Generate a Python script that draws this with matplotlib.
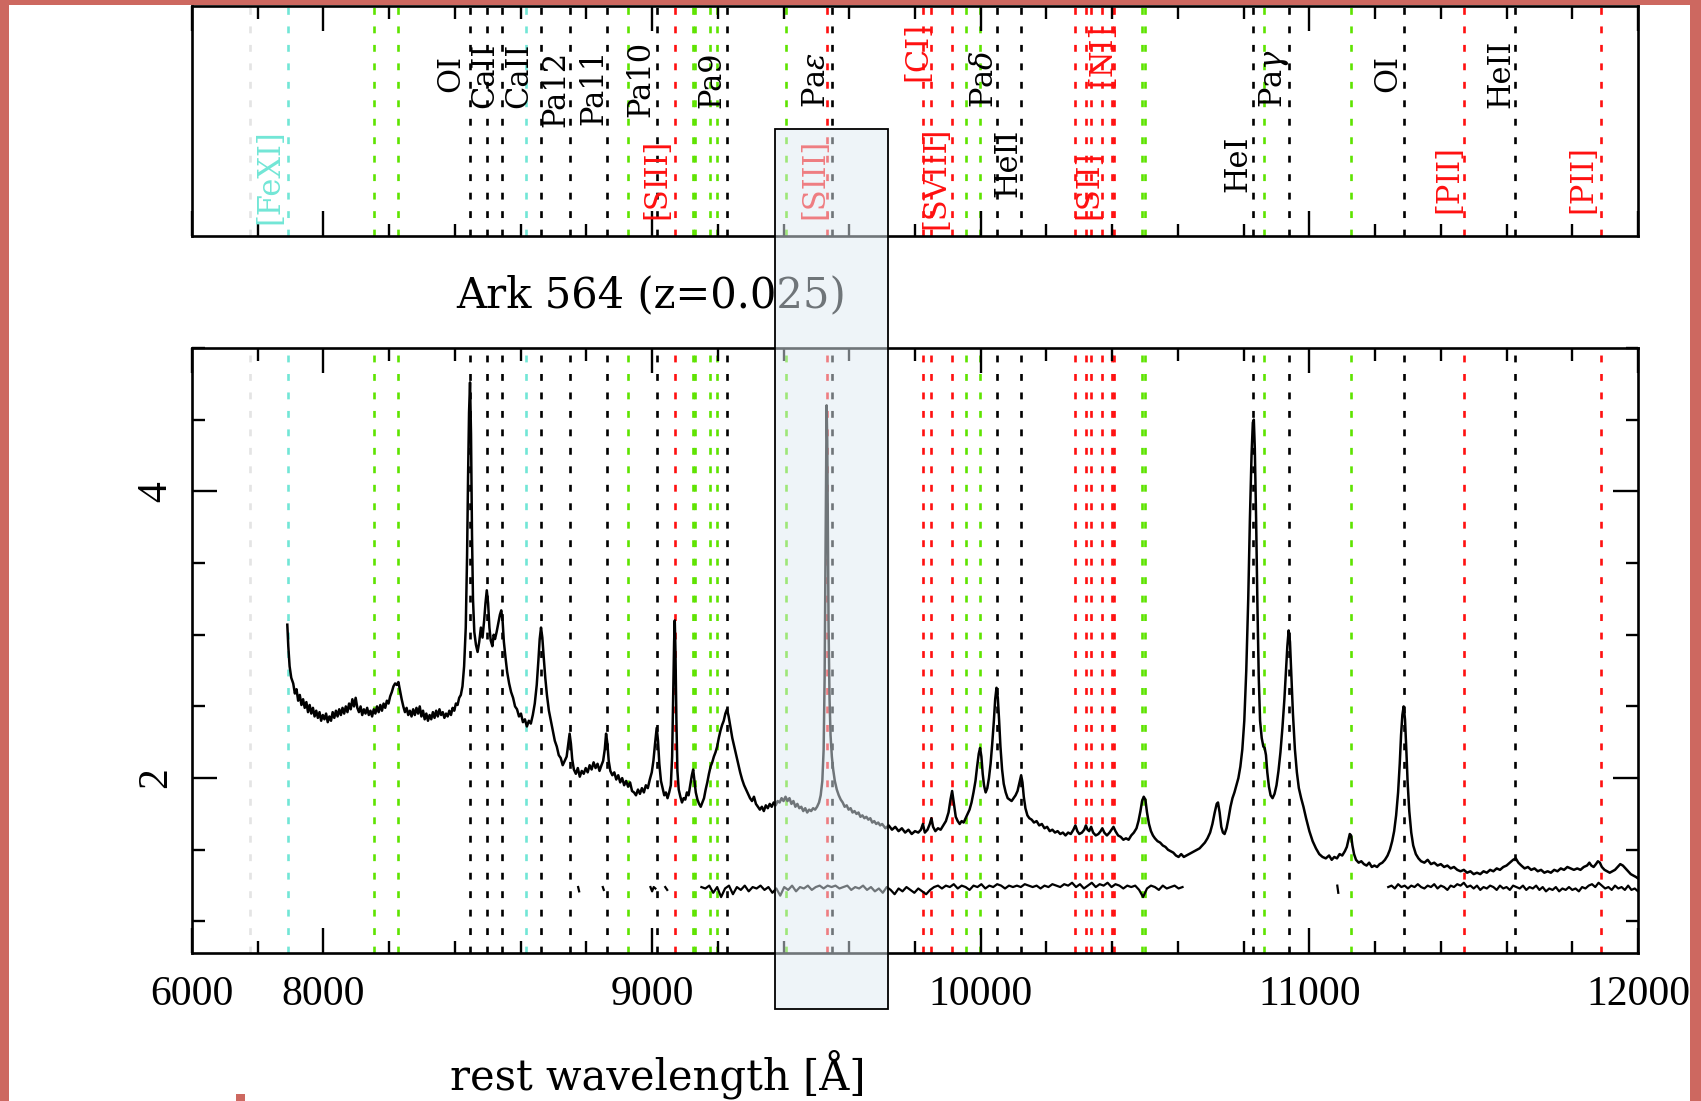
# near-IR spectrum of Ark 564 with line markers

import matplotlib
matplotlib.use("Agg")
import matplotlib.pyplot as plt
import matplotlib.transforms as mtransforms
from matplotlib.patches import Rectangle
from matplotlib.ticker import MultipleLocator, FixedLocator, FixedFormatter
import numpy as np

plt.rcParams['font.family'] = ['Liberation Serif', 'DejaVu Serif']
plt.rcParams['mathtext.fontset'] = 'dejavuserif'

nan = float('nan')

TITLE = "Ark 564 (z=0.025)"
XLABEL = "rest wavelength [Å]"

# spectrum
wave_a = [7890, 7893, 7897, 7902, 7908, 7913, 7918, 7923, 7928, 7933,
          7938, 7943, 7948, 7953, 7958, 7963, 7968, 7973, 7978, 7983,
          7988, 7993, 7998, 8003, 8008, 8013, 8018, 8023, 8028, 8033,
          8038, 8043, 8048, 8053, 8058, 8063, 8068, 8073, 8078, 8083,
          8088, 8093, 8098, 8103, 8108, 8113, 8118, 8123, 8128, 8133,
          8138, 8143, 8148, 8153, 8158, 8163, 8168, 8173, 8178, 8183,
          8188, 8193, 8198, 8203, 8208, 8213, 8218, 8223, 8228, 8233,
          8238, 8243, 8248, 8253, 8258, 8263, 8268, 8273, 8278, 8283,
          8288, 8293, 8298, 8303, 8308, 8313, 8318, 8323, 8328, 8333,
          8338, 8343, 8348, 8353, 8358, 8363, 8368, 8373, 8378, 8383,
          8388, 8393, 8398, 8403, 8408, 8413, 8418, 8423, 8428]
flux_a = [3.07, 2.92, 2.78, 2.70, 2.66, 2.59, 2.62, 2.54, 2.58, 2.51,
          2.55, 2.49, 2.53, 2.46, 2.51, 2.45, 2.49, 2.43, 2.47, 2.42,
          2.46, 2.40, 2.44, 2.41, 2.45, 2.39, 2.43, 2.40, 2.46, 2.42,
          2.47, 2.43, 2.48, 2.44, 2.49, 2.45, 2.50, 2.46, 2.52, 2.48,
          2.55, 2.50, 2.56, 2.49, 2.46, 2.50, 2.44, 2.48, 2.45, 2.49,
          2.44, 2.47, 2.43, 2.48, 2.45, 2.50, 2.46, 2.51, 2.47, 2.52,
          2.49, 2.54, 2.52, 2.57, 2.60, 2.64, 2.66, 2.65, 2.67, 2.61,
          2.55, 2.50, 2.46, 2.49, 2.44, 2.47, 2.43, 2.48, 2.44, 2.49,
          2.45, 2.50, 2.43, 2.47, 2.41, 2.45, 2.40, 2.44, 2.41, 2.46,
          2.42, 2.47, 2.43, 2.48, 2.44, 2.46, 2.42, 2.45, 2.43, 2.47,
          2.44, 2.49, 2.47, 2.52, 2.51, 2.56, 2.58, 2.64, 2.78]

wave_b = [8433, 8437, 8440, 8443, 8446, 8449, 8452, 8455, 8459, 8464,
          8469, 8474, 8479, 8484, 8489, 8493, 8497, 8501, 8505, 8509,
          8514, 8518, 8522, 8527, 8532, 8537, 8541, 8545, 8549, 8554,
          8559, 8565, 8571, 8577, 8583, 8589, 8595, 8601, 8607, 8613,
          8619, 8625, 8631, 8637, 8643, 8649, 8654, 8658, 8662, 8666,
          8670, 8675, 8680, 8686, 8692, 8698]
flux_b = [3.05, 3.55, 4.10, 4.55, 4.76, 4.40, 3.70, 3.25, 3.02, 2.93,
          2.88, 2.95, 3.05, 2.98, 3.10, 3.22, 3.31, 3.22, 3.05, 2.96,
          2.92, 3.00, 2.97, 3.02, 3.08, 3.14, 3.17, 3.10, 2.95, 2.84,
          2.74, 2.66, 2.60, 2.56, 2.50, 2.48, 2.43, 2.45, 2.39, 2.41,
          2.36, 2.40, 2.38, 2.44, 2.52, 2.65, 2.82, 2.97, 3.05, 2.98,
          2.85, 2.70, 2.58, 2.47, 2.40, 2.33]

wave_c = [8704, 8710, 8716, 8722, 8728, 8734, 8740, 8745, 8749, 8753,
          8757, 8762, 8768, 8774, 8780, 8786, 8792, 8798, 8804, 8810,
          8816, 8822, 8828, 8834, 8840, 8846, 8851, 8856, 8860, 8864,
          8868, 8873, 8879, 8885, 8891, 8897, 8903, 8909, 8915, 8921,
          8927, 8933, 8939, 8945, 8951, 8957, 8963, 8969, 8975, 8981,
          8987, 8993, 8999, 9004, 9009, 9014, 9018, 9022, 9027, 9032,
          9037, 9042, 9047, 9052, 9057, 9061, 9064, 9067, 9069, 9071,
          9074, 9077, 9081, 9086, 9091, 9096, 9101, 9106, 9111, 9116,
          9121, 9125, 9129, 9133, 9138, 9143, 9148, 9153, 9158, 9163,
          9168, 9173, 9178, 9183, 9188, 9193, 9198, 9203, 9208, 9213,
          9218, 9223, 9228, 9233, 9238, 9244, 9250, 9256, 9262, 9268,
          9274, 9280, 9286, 9292, 9298, 9304, 9310, 9316, 9322, 9328,
          9334, 9340, 9346, 9352, 9358, 9364, 9370, 9376, 9382, 9388,
          9394, 9400, 9406, 9412, 9418, 9424, 9430, 9436, 9442, 9448,
          9454, 9460, 9466, 9472, 9478, 9484, 9490, 9496]
flux_c = [2.26, 2.22, 2.16, 2.14, 2.09, 2.12, 2.15, 2.24, 2.31, 2.24,
          2.13, 2.06, 2.03, 2.07, 2.01, 2.05, 2.03, 2.07, 2.04, 2.09,
          2.06, 2.11, 2.07, 2.10, 2.05, 2.09, 2.12, 2.20, 2.31, 2.24,
          2.12, 2.05, 2.02, 2.04, 1.99, 2.02, 1.97, 2.00, 1.95, 1.98,
          1.94, 1.97, 1.91, 1.90, 1.88, 1.92, 1.89, 1.93, 1.90, 1.95,
          1.93, 1.99, 2.04, 2.12, 2.24, 2.35, 2.26, 2.10, 1.98, 1.93,
          1.88, 1.90, 1.86, 1.90, 1.95, 2.15, 2.55, 2.95, 3.10, 2.90,
          2.40, 2.05, 1.92, 1.87, 1.83, 1.86, 1.85, 1.90, 1.88, 1.95,
          2.02, 2.06, 1.98, 1.90, 1.85, 1.82, 1.80, 1.83, 1.86, 1.92,
          1.97, 2.03, 2.08, 2.11, 2.15, 2.18, 2.22, 2.28, 2.33, 2.37,
          2.40, 2.45, 2.48, 2.43, 2.36, 2.28, 2.22, 2.16, 2.10, 2.04,
          1.99, 1.95, 1.92, 1.89, 1.86, 1.84, 1.87, 1.82, 1.80, 1.78,
          1.80, 1.77, 1.81, 1.79, 1.82, 1.80, 1.83, 1.81, 1.84, 1.83,
          1.86, 1.84, 1.87, 1.84, 1.86, 1.82, 1.84, 1.80, 1.82, 1.79,
          1.80, 1.77, 1.79, 1.76, 1.78, 1.77, 1.79, 1.78]

wave_d = [9502, 9508, 9513, 9518, 9522, 9525, 9527, 9529, 9531, 9533,
          9535, 9537, 9540, 9543, 9547, 9551, 9556, 9562, 9568, 9574,
          9580, 9586, 9592, 9598, 9604, 9610, 9616, 9622, 9628, 9634,
          9640, 9646, 9652, 9658, 9664, 9670, 9676, 9682, 9688, 9694,
          9700, 9710, 9720, 9730, 9740, 9750, 9760, 9770, 9780, 9790,
          9800]
flux_d = [1.80, 1.83, 1.88, 1.98, 2.20, 2.70, 3.30, 4.00, 4.60, 4.35,
          3.70, 3.05, 2.55, 2.30, 2.15, 2.06, 1.98, 1.92, 1.88, 1.85,
          1.83, 1.80, 1.81, 1.78, 1.79, 1.76, 1.77, 1.75, 1.76, 1.73,
          1.74, 1.72, 1.73, 1.71, 1.72, 1.69, 1.70, 1.68, 1.69, 1.67,
          1.68, 1.65, 1.67, 1.64, 1.66, 1.63, 1.65, 1.62, 1.64, 1.61,
          1.63]

wave_e = [9810, 9818, 9824, 9830, 9838, 9845, 9850, 9855, 9862, 9870,
          9878, 9886, 9894, 9902, 9908, 9913, 9918, 9924, 9930, 9936,
          9942, 9948, 9954, 9960, 9966, 9972, 9978, 9984, 9989, 9994,
          9998, 10002, 10006, 10010, 10015, 10020, 10025, 10030, 10035, 10040,
          10044, 10048, 10052, 10056, 10060, 10065, 10070, 10076, 10082, 10088,
          10094, 10100, 10106, 10112, 10118, 10123, 10127, 10131, 10136, 10142,
          10148, 10155, 10162, 10170, 10178, 10186, 10194, 10202, 10210, 10218,
          10226, 10234, 10242, 10250, 10258, 10266, 10274, 10282, 10288, 10294,
          10300, 10308, 10315, 10320, 10325, 10330, 10336, 10342, 10350, 10358,
          10365, 10370, 10376, 10384, 10392, 10398, 10404, 10410, 10418, 10426,
          10434, 10442, 10450, 10458, 10466, 10474, 10480, 10486, 10491, 10496,
          10501, 10506, 10512, 10518, 10524, 10530, 10538, 10546, 10554, 10562,
          10570, 10578, 10586, 10594, 10602, 10610, 10618, 10626, 10634, 10642,
          10650, 10658, 10666, 10674, 10682, 10690, 10698, 10705, 10712, 10718,
          10722, 10727, 10732, 10737, 10742, 10748, 10754, 10760, 10766]
flux_e = [1.62, 1.64, 1.68, 1.62, 1.64, 1.68, 1.72, 1.66, 1.63, 1.65,
          1.64, 1.67, 1.70, 1.76, 1.85, 1.91, 1.83, 1.73, 1.70, 1.68,
          1.70, 1.69, 1.72, 1.75, 1.78, 1.83, 1.90, 1.98, 2.08, 2.17,
          2.21, 2.15, 2.03, 1.95, 1.90, 1.93, 2.00, 2.10, 2.24, 2.40,
          2.55, 2.63, 2.56, 2.40, 2.22, 2.06, 1.96, 1.90, 1.86, 1.85,
          1.84, 1.86, 1.88, 1.91, 1.97, 2.02, 1.97, 1.87, 1.79, 1.74,
          1.72, 1.71, 1.69, 1.70, 1.67, 1.68, 1.65, 1.66, 1.63, 1.64,
          1.62, 1.63, 1.61, 1.62, 1.60, 1.62, 1.61, 1.64, 1.67, 1.63,
          1.61, 1.62, 1.64, 1.67, 1.64, 1.63, 1.66, 1.62, 1.60, 1.61,
          1.63, 1.65, 1.62, 1.60, 1.62, 1.64, 1.66, 1.63, 1.60, 1.59,
          1.57, 1.58, 1.57, 1.60, 1.62, 1.65, 1.70, 1.77, 1.84, 1.87,
          1.85, 1.76, 1.68, 1.63, 1.60, 1.58, 1.56, 1.55, 1.53, 1.52,
          1.50, 1.49, 1.48, 1.46, 1.45, 1.47, 1.45, 1.46, 1.47, 1.48,
          1.49, 1.50, 1.51, 1.53, 1.55, 1.58, 1.62, 1.68, 1.76, 1.82,
          1.83, 1.76, 1.66, 1.62, 1.61, 1.65, 1.72, 1.80, 1.86]

wave_f = [10772, 10778, 10784, 10790, 10796, 10802, 10808, 10814, 10819, 10824,
          10828, 10831, 10834, 10838, 10842, 10846, 10850, 10855, 10860, 10864,
          10868, 10872, 10877, 10882, 10888, 10894, 10900, 10906, 10912, 10918,
          10924, 10929, 10933, 10937, 10941, 10945, 10950, 10956, 10962, 10968,
          10975, 10982, 10990, 11000]
flux_f = [1.90, 1.95, 2.00, 2.08, 2.20, 2.40, 2.75, 3.25, 3.80, 4.25,
          4.48, 4.50, 4.30, 3.80, 3.20, 2.70, 2.40, 2.28, 2.22, 2.21,
          2.16, 2.04, 1.94, 1.88, 1.86, 1.89, 1.95, 2.05, 2.18, 2.35,
          2.55, 2.75, 2.92, 3.03, 2.95, 2.72, 2.45, 2.20, 2.04, 1.93,
          1.86, 1.80, 1.72, 1.63]

wave_g = [11010, 11020, 11030, 11040, 11050, 11060, 11068, 11076, 11084, 11092,
          11100, 11108, 11114, 11119, 11123, 11127, 11131, 11136, 11142, 11150,
          11158, 11166, 11174, 11182, 11190, 11198, 11206, 11214, 11222, 11230,
          11238, 11245, 11252, 11258, 11264, 11270, 11275, 11279, 11283, 11287,
          11291, 11295, 11299, 11304, 11310, 11316, 11324, 11332, 11340, 11350,
          11360, 11370, 11380, 11390, 11400, 11410, 11420, 11430, 11440, 11450,
          11460, 11470, 11480, 11490, 11500, 11510, 11520, 11530, 11540, 11550,
          11560, 11570, 11580, 11590, 11600, 11610, 11620, 11628, 11636, 11645,
          11655, 11665, 11675, 11685, 11695, 11705, 11715, 11725, 11735, 11745,
          11755, 11765, 11775, 11785, 11795, 11805, 11815, 11825, 11835, 11845,
          11852, 11858, 11865, 11872, 11878, 11884, 11890, 11898, 11906, 11914,
          11922, 11930, 11938, 11946, 11954, 11962, 11970, 11978, 11986, 11994,
          12000]
flux_g = [1.56, 1.51, 1.47, 1.45, 1.44, 1.46, 1.43, 1.45, 1.44, 1.47,
          1.46, 1.49, 1.52, 1.57, 1.61, 1.60, 1.53, 1.47, 1.43, 1.41,
          1.42, 1.40, 1.39, 1.41, 1.38, 1.39, 1.38, 1.40, 1.41, 1.43,
          1.46, 1.50, 1.56, 1.63, 1.74, 1.90, 2.10, 2.30, 2.44, 2.50,
          2.41, 2.20, 1.97, 1.77, 1.62, 1.53, 1.47, 1.44, 1.42, 1.41,
          1.43, 1.40, 1.41, 1.39, 1.40, 1.38, 1.39, 1.37, 1.38, 1.36,
          1.35, 1.36, 1.34, 1.35, 1.33, 1.34, 1.33, 1.35, 1.34, 1.36,
          1.35, 1.37, 1.36, 1.38, 1.39, 1.41, 1.43, 1.44, 1.41, 1.39,
          1.37, 1.38, 1.36, 1.37, 1.35, 1.36, 1.34, 1.35, 1.34, 1.36,
          1.35, 1.37, 1.36, 1.38, 1.37, 1.36, 1.37, 1.36, 1.38, 1.39,
          1.41, 1.39, 1.38, 1.40, 1.42, 1.41, 1.38, 1.36, 1.35, 1.34,
          1.35, 1.36, 1.38, 1.40, 1.39, 1.37, 1.35, 1.33, 1.32, 1.31,
          1.30]

# residual trace (gaps where the picture shows none)
res_wave_bits = [8775, 8778, 8781, 8850, 8853, 8856, 8995, 9000, 9005, 9010,
                 9015, 9040, 9046, 9050, 11085, 11088, 11091]
res_flux_bits = [1.24, 1.21, nan, 1.24, 1.22, nan, 1.24, 1.21, 1.24, 1.23,
                 nan, 1.24, 1.22, nan, 1.25, 1.20, nan]
res_wave_1 = list(range(9150, 10620, 12))
res_flux_1 = [1.24, 1.23, 1.25, 1.20, 1.24, 1.17, 1.23, 1.25, 1.19, 1.24,
              1.22, 1.25, 1.21, 1.24, 1.23, 1.25, 1.22, 1.24, 1.20, 1.23,
              1.18, 1.24, 1.22, 1.25, 1.21, 1.24, 1.23, 1.25, 1.22, 1.24,
              1.25, 1.23, 1.25, 1.24, 1.25, 1.23, 1.24, 1.25, 1.22, 1.24,
              1.23, 1.25, 1.22, 1.24, 1.21, 1.23, 1.20, 1.24, 1.22, 1.19,
              1.23, 1.21, 1.24, 1.22, 1.20, 1.23, 1.21, 1.19, 1.22, 1.24,
              1.25, 1.23, 1.25, 1.24, 1.26, 1.23, 1.25, 1.24, 1.22, 1.25,
              1.24, 1.26, 1.23, 1.25, 1.24, 1.26, 1.25, 1.23, 1.25, 1.24,
              1.25, 1.24, 1.26, 1.25, 1.24, 1.25, 1.23, 1.25, 1.24, 1.26,
              1.25, 1.24, 1.26, 1.25, 1.27, 1.24, 1.26, 1.23, 1.25, 1.27,
              1.24, 1.26, 1.25, 1.27, 1.24, 1.26, 1.25, 1.23, 1.25, 1.24,
              1.25, 1.22, 1.17, 1.23, 1.25, 1.24, 1.22, 1.25, 1.23, 1.24,
              1.25, 1.23, 1.24]
res_wave_2 = list(range(11240, 12001, 10))
res_flux_2 = [1.24, 1.25, 1.23, 1.26, 1.24, 1.25, 1.23, 1.25, 1.24, 1.26,
              1.24, 1.23, 1.25, 1.24, 1.26, 1.23, 1.25, 1.24, 1.22, 1.25,
              1.24, 1.26, 1.25, 1.27, 1.24, 1.25, 1.23, 1.25, 1.22, 1.24,
              1.23, 1.25, 1.24, 1.22, 1.25, 1.23, 1.24, 1.22, 1.25, 1.24,
              1.23, 1.25, 1.22, 1.24, 1.23, 1.25, 1.22, 1.24, 1.21, 1.23,
              1.22, 1.24, 1.21, 1.23, 1.22, 1.24, 1.22, 1.23, 1.21, 1.24,
              1.23, 1.25, 1.26, 1.24, 1.27, 1.25, 1.23, 1.24, 1.22, 1.25,
              1.23, 1.24, 1.22, 1.25, 1.22, 1.23, 1.21]

# line positions [A] by colour
black_lines = [8446, 8498, 8542, 8662, 8750, 8863, 9015, 9229, 9546, 10049,
               10124, 10830, 10938, 11287, 11626]
green_lines = [8155, 8228, 8927, 9123, 9132, 9177, 9197, 9406, 9956, 9998,
               10490, 10501, 10863, 11126]
red_lines = [9069, 9531, 9824, 9850, 9913, 10287, 10320, 10336, 10370, 10398,
             10407, 11470, 11886]
cyan_lines = [7892, 8617]
edge_lines = [7777]

# labels in the top panel
upper_names = ['OI', 'CaII', 'CaII', 'Pa12', 'Pa11', 'Pa10', 'Pa9', r'Pa$\epsilon$',
               '[CI]', r'Pa$\delta$', '[NI]', r'Pa$\gamma$', 'OI', 'HeII']
upper_wave = [8387, 8490, 8595, 8708, 8822, 8965, 9181, 9501,
              9808, 10012, 10368, 10892, 11239, 11583]
upper_col = ['k', 'k', 'k', 'k', 'k', 'k', 'k', 'k', 'r', 'k', 'r', 'k', 'k', 'k']
upper_y = [0.626, 0.557, 0.557, 0.474, 0.483, 0.517, 0.557, 0.557,
           0.674, 0.557, 0.65, 0.557, 0.626, 0.557]

lower_names = ['[FeXI]', '[SIII]', '[SIII]', '[SVIII]', 'HeII', '[SII]', 'HeI', '[PII]', '[PII]']
lower_wave = [7836, 9014, 9495, 9863, 10082, 10329, 10782, 11425, 11833]
lower_col = ['c', 'r', 'r', 'r', 'k', 'r', 'k', 'r', 'r']
lower_y = [0.05, 0.075, 0.075, 0.03, 0.17, 0.075, 0.19, 0.10, 0.10]

box_lo, box_hi = 9373, 9717

colours = {'k': 'black', 'g': '#5ee300', 'r': '#ff1010', 'c': '#72e6d6', 'e': '#e4e4e4'}
serif_wide = ['DejaVu Serif']

W, H = 1701.0, 1101.0
fig = plt.figure(figsize=(17.01, 11.01), dpi=100)
fig.patch.set_facecolor('#cd6860')
fig.add_artist(Rectangle((9 / W, 0), (1690 - 9) / W, 1096 / H, transform=fig.transFigure,
                         facecolor='white', edgecolor='none', zorder=0))
fig.add_artist(Rectangle((236 / W, 0), 9 / W, 7 / H, transform=fig.transFigure,
                         facecolor='#cd6860', edgecolor='none', zorder=1))

top = fig.add_axes([192 / W, (H - 236) / H, (1638 - 192) / W, (236 - 6) / H])
ax = fig.add_axes([192 / W, (H - 953) / H, (1638 - 192) / W, (953 - 348) / H])

dash = (0, (2.6, 4.4))
for a in (top, ax):
    for key, group in (('e', edge_lines), ('c', cyan_lines), ('g', green_lines),
                       ('r', red_lines), ('k', black_lines)):
        for w in group:
            a.axvline(w, color=colours[key], lw=1.9, linestyle=dash, zorder=1)
    a.set_xlim(7600, 12000)
    a.xaxis.set_major_locator(FixedLocator([7600, 8000, 9000, 10000, 11000, 12000]))
    a.xaxis.set_minor_locator(MultipleLocator(200))
    a.tick_params(which='both', direction='in', top=True, bottom=True, left=True, right=True,
                  width=1.7, color='black')
    a.tick_params(which='major', length=18)
    a.tick_params(which='minor', length=9)
    for s in a.spines.values():
        s.set_linewidth(1.9)

# spectrum and residual
wave = wave_a + wave_b + wave_c + wave_d + wave_e + wave_f + wave_g
flux = flux_a + flux_b + flux_c + flux_d + flux_e + flux_f + flux_g
ax.plot(wave, flux, color='black', lw=1.8, zorder=3)
ax.plot(res_wave_bits, res_flux_bits, color='black', lw=1.6, zorder=3)
ax.plot(res_wave_1, res_flux_1, color='black', lw=1.6, zorder=3)
ax.plot(res_wave_2, res_flux_2, color='black', lw=1.6, zorder=3)

ax.set_ylim(0.78, 5.0)
ax.yaxis.set_major_locator(MultipleLocator(2))
ax.yaxis.set_minor_locator(MultipleLocator(0.5))
ax.tick_params(axis='y', labelsize=30, pad=12, labelrotation=90)
for t in ax.get_yticklabels():
    t.set_va('center')
# the left end of the axis still carries the old 6000 label
ax.xaxis.set_major_formatter(FixedFormatter(['6000', '8000', '9000', '10000', '11000', '12000']))
ax.tick_params(axis='x', labelsize=30, pad=16)

top.set_ylim(0, 1)
top.set_yticks([])
top.tick_params(axis='x', labelbottom=False)

lab_trans = mtransforms.blended_transform_factory(top.transData, top.transAxes)
for name, w, c, y in zip(upper_names, upper_wave, upper_col, upper_y):
    top.text(w, y, name, color=colours[c], rotation=90, ha='center', va='bottom',
             fontsize=22, family=serif_wide, transform=lab_trans)
for name, w, c, y in zip(lower_names, lower_wave, lower_col, lower_y):
    top.text(w, y, name, color=colours[c], rotation=90, ha='center', va='bottom',
             fontsize=22, family=serif_wide, transform=lab_trans)

fig.text(456 / W, (H - 295) / H, TITLE, fontsize=30, family=serif_wide, ha='left', va='center')
fig.text(450 / W, (H - 1074) / H, XLABEL, fontsize=30, family=serif_wide, ha='left', va='center')

# highlighted band around [SIII] 9531
trans = mtransforms.blended_transform_factory(ax.transData, fig.transFigure)
fig.add_artist(Rectangle((box_lo, (H - 1009) / H), box_hi - box_lo, (1009 - 129) / H,
                         transform=trans, facecolor='#dfeaf2', alpha=0.5,
                         edgecolor='none', zorder=10))
fig.add_artist(Rectangle((box_lo, (H - 1009) / H), box_hi - box_lo, (1009 - 129) / H,
                         transform=trans, fill=False, edgecolor='black', lw=1.3, zorder=11))

fig.savefig('out.png', dpi=100, facecolor=fig.get_facecolor())
